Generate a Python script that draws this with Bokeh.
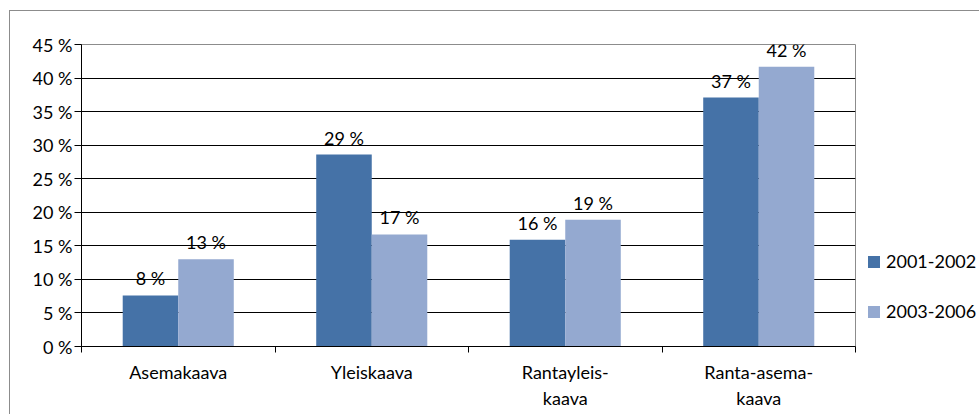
from bokeh.plotting import figure
from bokeh.layouts import row
from bokeh.models import ColumnDataSource, FixedTicker, Range1d, Legend, LegendItem
from bokeh.core.properties import value
from bokeh.embed import file_html
from bokeh.resources import INLINE

categories = ["Asemakaava", "Yleiskaava", "Rantayleis-\nkaava", "Ranta-asema-\nkaava"]
series_names = ["2001-2002", "2003-2006"]
values_2001 = [7.6, 28.6, 15.9, 37.1]
values_2003 = [13.0, 16.7, 18.9, 41.7]
y_ticks = [0, 5, 10, 15, 20, 25, 30, 35, 40, 45]
y_tick_labels = ["0 %", "5 %", "10 %", "15 %", "20 %", "25 %", "30 %", "35 %", "40 %", "45 %"]

colors = ["#4572A7", "#94A9D0"]
FONT = "Lato"
FS = "18px"
FRAME = "#8c8c8c"

centers = [i + 0.5 for i in range(len(categories))]
dodge = 0.1435
bw = 0.287

p = figure(width=856, height=414, output_backend="svg", toolbar_location=None,
           x_range=Range1d(0, 4), y_range=Range1d(0, 45),
           min_border_left=81, min_border_top=44, min_border_bottom=68, min_border_right=1)
p.styles = {
    "background": f"linear-gradient({FRAME},{FRAME}) 9px 10px / 1px 100% no-repeat, "
                  f"linear-gradient({FRAME},{FRAME}) 9px 10px / 100% 1px no-repeat, white"
}
p.border_fill_color = None
p.background_fill_color = "white"
p.outline_line_color = FRAME
p.outline_line_width = 1

# axes
p.yaxis.ticker = FixedTicker(ticks=y_ticks, minor_ticks=[])
p.yaxis.major_label_overrides = {t: l for t, l in zip(y_ticks, y_tick_labels)}
p.yaxis.axis_line_color = "black"
p.yaxis.major_tick_line_color = "black"
p.yaxis.major_tick_out = 7
p.yaxis.major_tick_in = 0
p.yaxis.minor_tick_line_color = None
p.yaxis.major_label_standoff = 2
p.yaxis.major_label_text_font = FONT
p.yaxis.major_label_text_font_size = FS
p.yaxis.major_label_text_color = "black"

p.xaxis.ticker = FixedTicker(ticks=centers, minor_ticks=[0, 1, 2, 3, 4])
p.xaxis.major_label_overrides = {c: l for c, l in zip(centers, categories)}
p.xaxis.axis_line_color = "black"
p.xaxis.major_tick_line_color = None
p.xaxis.major_tick_out = 0
p.xaxis.major_tick_in = 0
p.xaxis.minor_tick_line_color = "black"
p.xaxis.minor_tick_out = 6
p.xaxis.minor_tick_in = 0
p.xaxis.major_label_standoff = 8
p.xaxis.major_label_text_font = FONT
p.xaxis.major_label_text_font_size = FS
p.xaxis.major_label_text_color = "black"
p.xaxis.major_label_text_line_height = 1.2

p.xgrid.grid_line_color = None
p.ygrid.ticker = FixedTicker(ticks=y_ticks)
p.ygrid.grid_line_color = "black"
p.ygrid.grid_line_width = 1

for vals, col, off in [(values_2001, colors[0], -dodge), (values_2003, colors[1], dodge)]:
    src = ColumnDataSource(dict(x=[c + off for c in centers], top=vals,
                                lab=[f"{round(v)} %" for v in vals]))
    p.vbar(x="x", top="top", width=bw, bottom=0, source=src,
           fill_color=col, line_color=None)
    p.text(x="x", y="top", text="lab", source=src, text_align="center",
           text_baseline="bottom", y_offset=-6, text_font=value(FONT),
           text_font_size=value(FS), text_color="black")

# legend panel (proxy renderers lie outside the visible range)
p2 = figure(width=123, height=414, output_backend="svg", toolbar_location=None,
            x_range=Range1d(0, 1), y_range=Range1d(0, 1),
            x_axis_location=None, y_axis_location=None,
            min_border=0)
p2.styles = {
    "background": f"linear-gradient({FRAME},{FRAME}) 0px 10px / 100% 1px no-repeat, white"
}
p2.border_fill_color = None
p2.background_fill_color = None
p2.outline_line_color = None
p2.grid.visible = False
leg_renderers = []
for col in colors:
    leg_renderers.append(p2.vbar(x=[-10], top=[0], bottom=0, width=0.1,
                                 fill_color=col, line_color=None))

legend = Legend(items=[LegendItem(label=n, renderers=[r]) for n, r in zip(series_names, leg_renderers)],
                location=(10, 24), padding=0, margin=0, spacing=28,
                glyph_width=15, glyph_height=15, label_standoff=5, label_height=20,
                label_text_font=FONT, label_text_font_size=FS, label_text_baseline="middle",
                label_text_color="black",
                border_line_color=None, background_fill_color=None)
p2.add_layout(legend, "center")

layout = row(p, p2, spacing=0)
open("out.html", "w").write(file_html(layout, INLINE))
